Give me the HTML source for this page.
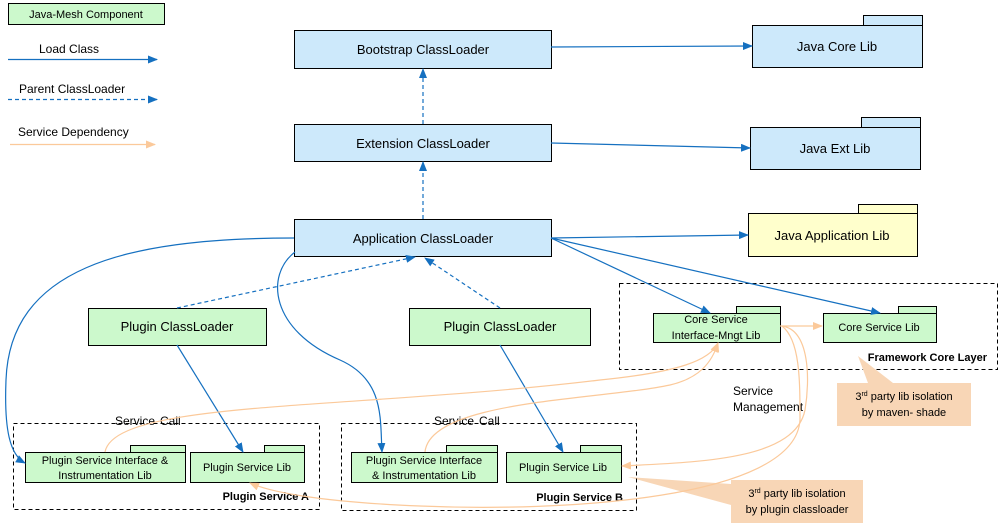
<!DOCTYPE html>
<html><head><meta charset="utf-8"><style>
body{margin:0;background:#fff}
svg{display:block;font-family:"Liberation Sans",Arial,sans-serif}
</style></head><body>
<svg width="998" height="525" viewBox="0 0 998 525" xmlns="http://www.w3.org/2000/svg">
<defs>
<marker id="b" markerWidth="10" markerHeight="8" refX="9" refY="4" orient="auto" markerUnits="userSpaceOnUse"><path d="M0,0 L10,4 L0,8 z" fill="#1570c0"/></marker>
<marker id="o" markerWidth="10" markerHeight="8" refX="9" refY="4" orient="auto" markerUnits="userSpaceOnUse"><path d="M0,0 L10,4 L0,8 z" fill="#fbc99a"/></marker>
</defs>
<rect x="8.5" y="3.5" width="156" height="21" fill="#ccf9cc" stroke="#000"/>
<text x="86" y="18" font-size="11" text-anchor="middle">Java-Mesh Component</text>
<text x="39" y="53" font-size="12">Load Class</text>
<line x1="8" y1="59.5" x2="157" y2="59.5" stroke="#1570c0" stroke-width="1.3" marker-end="url(#b)"/>
<text x="19" y="93" font-size="12">Parent ClassLoader</text>
<line x1="8" y1="99.5" x2="157" y2="99.5" stroke="#1570c0" stroke-width="1.3" stroke-dasharray="4,3" marker-end="url(#b)"/>
<text x="18" y="136" font-size="12">Service Dependency</text>
<line x1="10" y1="144.5" x2="155" y2="144.5" stroke="#fbc99a" stroke-width="1.3" marker-end="url(#o)"/>

<g fill="#cde9fb" stroke="#000">
<rect x="294.5" y="30.5" width="257" height="38"/>
<rect x="294.5" y="124.5" width="257" height="37"/>
<rect x="294.5" y="219.5" width="257" height="37"/>
</g>
<g font-size="13" text-anchor="middle">
<text x="423" y="54">Bootstrap ClassLoader</text>
<text x="423" y="148">Extension ClassLoader</text>
<text x="423" y="243">Application ClassLoader</text>
</g>
<g stroke="#000">
<rect x="863.5" y="15.5" width="59" height="10" fill="#cde9fb"/><rect x="752.5" y="25.5" width="170" height="42" fill="#cde9fb"/>
<rect x="861.5" y="117.5" width="59" height="10" fill="#cde9fb"/><rect x="750.5" y="127.5" width="170" height="42" fill="#cde9fb"/>
<rect x="858.5" y="204.5" width="59" height="9" fill="#ffffcc"/><rect x="748.5" y="213.5" width="169" height="43" fill="#ffffcc"/>
</g>
<g font-size="13" text-anchor="middle">
<text x="837" y="51">Java Core Lib</text>
<text x="835" y="153">Java Ext Lib</text>
<text x="832" y="240">Java Application Lib</text>
</g>

<g fill="#ccf9cc" stroke="#000">
<rect x="88.5" y="308.5" width="178" height="37"/>
<rect x="409.5" y="308.5" width="181" height="37"/>
</g>
<g font-size="13" text-anchor="middle">
<text x="177" y="331">Plugin ClassLoader</text>
<text x="500" y="331">Plugin ClassLoader</text>
</g>

<rect x="619.5" y="283.5" width="378" height="86" fill="none" stroke="#000" stroke-dasharray="4,3"/>
<g fill="#ccf9cc" stroke="#000">
<rect x="736.5" y="306.5" width="44" height="7"/><rect x="653.5" y="313.5" width="127" height="29"/>
<rect x="898.5" y="306.5" width="38" height="7"/><rect x="823.5" y="313.5" width="113" height="29"/>
</g>
<g font-size="11" text-anchor="middle">
<text x="716" y="323">Core Service</text>
<text x="716" y="339">Interface-Mngt Lib</text>
<text x="879" y="331">Core Service Lib</text>
</g>
<text x="987" y="361" font-size="11" font-weight="bold" text-anchor="end">Framework Core Layer</text>

<path d="M858,356 L868,383 L893,383 Z" fill="#f8d6b6"/>
<rect x="837" y="383" width="134" height="43" fill="#f8d6b6"/>
<text x="904" y="400" font-size="11" text-anchor="middle">3<tspan font-size="7" dy="-4">rd</tspan><tspan dy="4"> party lib isolation</tspan></text>
<text x="904" y="416" font-size="11" text-anchor="middle">by maven- shade</text>
<path d="M628,477 L731,484 L731,505 Z" fill="#f8d6b6"/>
<rect x="731" y="480" width="132" height="43" fill="#f8d6b6"/>
<text x="797" y="497" font-size="11" text-anchor="middle">3<tspan font-size="7" dy="-4">rd</tspan><tspan dy="4"> party lib isolation</tspan></text>
<text x="797" y="513" font-size="11" text-anchor="middle">by plugin classloader</text>
<text x="733" y="395" font-size="12">Service</text>
<text x="733" y="411" font-size="12">Management</text>

<rect x="13.5" y="423.5" width="306" height="86" fill="none" stroke="#000" stroke-dasharray="4,3"/>
<rect x="341.5" y="423.5" width="295" height="87" fill="none" stroke="#000" stroke-dasharray="4,3"/>
<g fill="#ccf9cc" stroke="#000">
<rect x="130.5" y="445.5" width="55" height="7"/><rect x="25.5" y="452.5" width="160" height="30"/>
<rect x="264.5" y="445.5" width="40" height="7"/><rect x="190.5" y="452.5" width="114" height="30"/>
<rect x="446.5" y="445.5" width="51" height="7"/><rect x="351.5" y="452.5" width="146" height="30"/>
<rect x="580.5" y="445.5" width="41" height="7"/><rect x="506.5" y="452.5" width="115" height="30"/>
</g>
<g font-size="11" text-anchor="middle">
<text x="105" y="464">Plugin Service Interface &amp;</text>
<text x="105" y="479">Instrumentation Lib</text>
<text x="247" y="471">Plugin Service Lib</text>
<text x="424" y="464">Plugin Service Interface</text>
<text x="424" y="479">&amp; Instrumentation Lib</text>
<text x="563" y="471">Plugin Service Lib</text>
</g>
<g font-size="11" font-weight="bold" text-anchor="end">
<text x="309" y="500">Plugin Service A</text>
<text x="623" y="501">Plugin Service B</text>
</g>
<g font-size="12">
<text x="115" y="425">Service</text><text x="160" y="425">Call</text>
<text x="434" y="425">Service</text><text x="479" y="425">Call</text>
</g>

<g stroke="#1570c0" stroke-width="1.2" fill="none" marker-end="url(#b)">
<line x1="551" y1="47" x2="752" y2="46"/>
<line x1="551" y1="143" x2="750" y2="148"/>
<line x1="551" y1="238" x2="748" y2="235"/>
<line x1="551" y1="238" x2="710" y2="313"/>
<line x1="551" y1="238" x2="880" y2="313"/>
<line x1="177" y1="345" x2="243" y2="452"/>
<line x1="500" y1="345" x2="563" y2="452"/>
<path d="M294,238 C120,238 10,270 6,380 C4,430 10,455 25,463"/>
<path d="M295,252 C265,275 270,330 340,360 C385,380 380,420 382,452"/>
</g>
<g stroke="#1570c0" stroke-width="1.2" fill="none" stroke-dasharray="4,3" marker-end="url(#b)">
<line x1="423" y1="124" x2="423" y2="69"/>
<line x1="423" y1="219" x2="423" y2="162"/>
<line x1="177" y1="308" x2="415" y2="257"/>
<line x1="500" y1="308" x2="425" y2="258"/>
</g>
<g stroke="#fbc99a" stroke-width="1.2" fill="none" marker-end="url(#o)">
<line x1="780" y1="326" x2="822" y2="326"/>
<path d="M105,452 C115,400 350,410 600,380 C680,372 710,360 718,343"/>
<path d="M425,452 C430,400 600,400 670,385 C700,378 712,362 718,343"/>
<path d="M782,326 C810,330 810,380 805,410 C795,460 700,462 622,466"/>
<path d="M782,326 C800,340 800,380 800,420 C795,500 560,512 420,506 C320,502 270,492 250,483"/>
</g>
</svg>
</body></html>
